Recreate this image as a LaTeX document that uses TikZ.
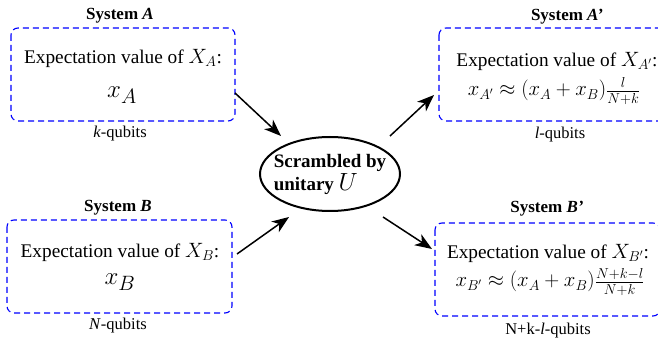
\documentclass[tikz,border=0pt]{standalone}
\usepackage{fontspec}
\setmainfont{Liberation Serif}
\usetikzlibrary{arrows.meta,shapes.geometric}
\tikzset{
  sysbox/.style={draw=blue, dashed, dash pattern=on 6pt off 4pt, line width=1.1pt, rounded corners=7pt},
  maintext/.style={font=\fontsize{19.3}{23}\selectfont, inner sep=0pt},
  bigmath/.style={font=\fontsize{28}{32}\selectfont, inner sep=0pt},
  formula/.style={font=\fontsize{19.3}{22}\selectfont, inner sep=0pt},
  syslabel/.style={font=\fontsize{17}{20}\selectfont\bfseries, inner sep=0pt},
  qlabel/.style={font=\fontsize{16.5}{19}\selectfont, inner sep=0pt},
  flow/.style={line width=1.5pt, -{Stealth[length=17pt,width=13pt,inset=5pt]}},
  core/.style={draw, line width=2pt, ellipse, minimum width=140pt, minimum height=74pt, inner sep=0pt},
  coretext/.style={align=left, inner sep=0pt, font=\fontsize{19}{23}\selectfont\bfseries}
}
\begin{document}
\begin{tikzpicture}[x=1pt,y=-1pt]
\clip (0,0) rectangle (658,344);
\useasboundingbox (0,0) rectangle (658,344);
% boxes
\draw[sysbox] (11,28) rectangle (235,121);
\draw[sysbox] (7,220) rectangle (232,313);
\draw[sysbox] (439,28) rectangle (690,121);
\draw[sysbox] (435,223) rectangle (660,316);
% box anchors
\coordinate (boxA) at (235,93);
\coordinate (boxB) at (237,254);
\coordinate (boxAp) at (434,95);
\coordinate (boxBp) at (432,249);
% labels
\node[syslabel] (labA) at (120,16) {System \textit{A}};
\node[qlabel] (qA) at (120,134) {\textit{k}-qubits};
\node[syslabel] (labB) at (118,208) {System \textit{B}};
\node[qlabel] (qB) at (118,326) {\textit{N}-qubits};
\node[syslabel] (labAp) at (567,17) {System \textit{A’}};
\node[qlabel] (qAp) at (560,135) {\textit{l}-qubits};
\node[syslabel] (labBp) at (547,209) {System \textit{B’}};
\node[qlabel] (qBp) at (548,331) {N+k-\textit{l}-qubits};
% texts
\node[maintext] (tA) at (123,58) {Expectation value of $X_A$:};
\node[bigmath] (mA) at (122,95) {$x_A$};
\node[maintext] (tB) at (120,252) {Expectation value of $X_B$:};
\node[bigmath] (mB) at (120,282) {$x_B$};
\node[maintext] (tAp) at (557,61) {Expectation value of $X_{A'}$:};
\node[formula] (mAp) at (554,91) {$x_{A'}\approx(x_A+x_B)\frac{l}{N+k}$};
\node[maintext] (tBp) at (548,253) {Expectation value of $X_{B'}$:};
\node[formula] (mBp) at (550,282) {$x_{B'}\approx(x_A+x_B)\frac{N+k-l}{N+k}$};
% center
\node[core] (U) at (330,174) {};
\node[coretext] (Ut) at (U.center) {Scrambled by\\unitary {\fontsize{24}{24}\selectfont$U$}};
% arrows
\coordinate (uA) at (281,136);
\coordinate (uB) at (289,217);
\coordinate (uAp) at (390,136);
\coordinate (uBp) at (383,217);
\draw[flow] (boxA) -- (uA);
\draw[flow] (boxB) -- (uB);
\draw[flow] (uAp) -- (boxAp);
\draw[flow] (uBp) -- (boxBp);
\end{tikzpicture}
\end{document}
